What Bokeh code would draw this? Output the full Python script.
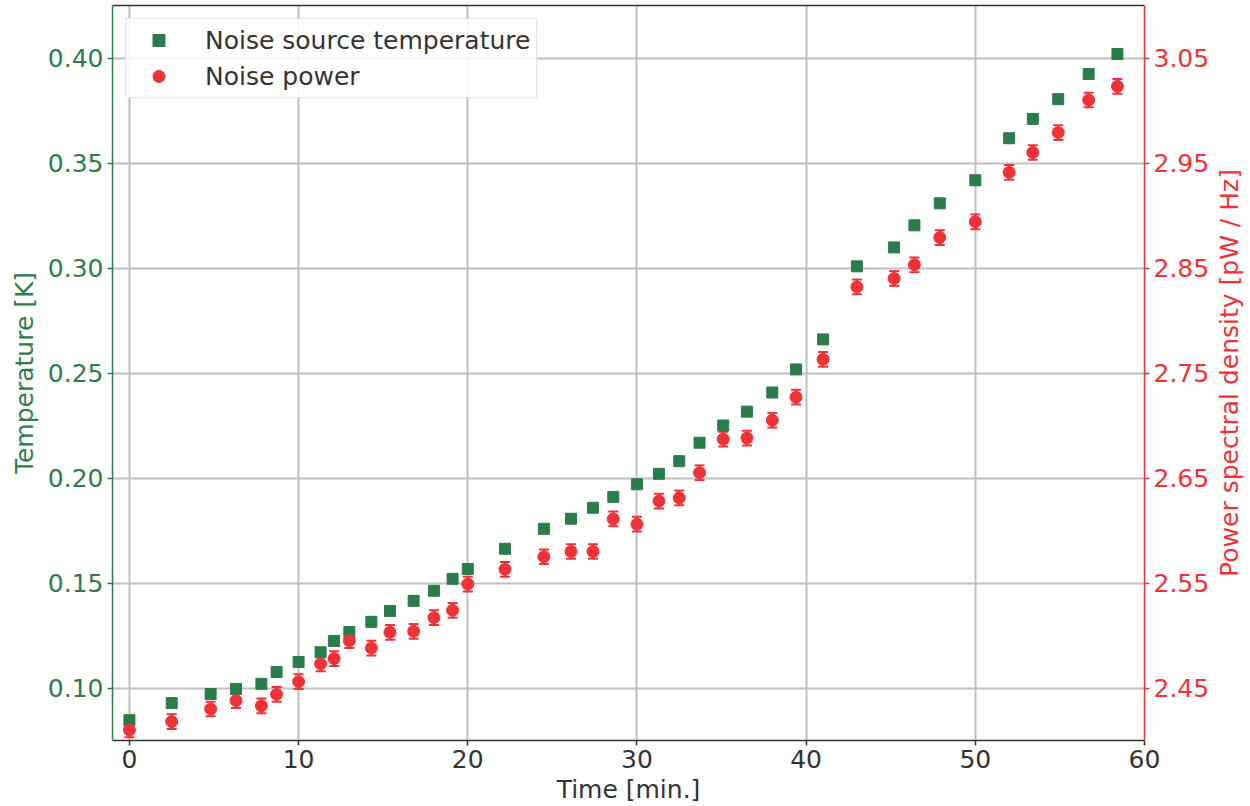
import math
from bokeh.plotting import figure
from bokeh.layouts import row
from bokeh.core.properties import value
from bokeh.models import (Range1d, LinearAxis, FixedTicker, NumeralTickFormatter,
                          ColumnDataSource, Whisker, TeeHead, Legend, LegendItem)
from bokeh.embed import file_html
from bokeh.resources import INLINE

# ---------------- data ----------------
time_min = [0.0, 2.5, 4.8, 6.3, 7.8, 8.7, 10.0, 11.3, 12.1, 13.0,
            14.3, 15.4, 16.8, 18.0, 19.1, 20.0, 22.2, 24.5, 26.1, 27.4,
            28.6, 30.0, 31.3, 32.5, 33.7, 35.1, 36.5, 38.0, 39.4, 41.0,
            43.0, 45.2, 46.4, 47.9, 50.0, 52.0, 53.4, 54.9, 56.7, 58.4]
temperature_K = [0.0847, 0.0928, 0.0971, 0.0995, 0.1020, 0.1076, 0.1124, 0.1170, 0.1224, 0.1267,
                 0.1315, 0.1367, 0.1415, 0.1463, 0.1520, 0.1567, 0.1663, 0.1758, 0.1806, 0.1858,
                 0.1910, 0.1970, 0.2020, 0.2080, 0.2168, 0.2250, 0.2316, 0.2407, 0.2517, 0.2660,
                 0.3008, 0.3098, 0.3203, 0.3308, 0.3418, 0.3618, 0.3710, 0.3804, 0.3924, 0.4019]
power_pW_Hz = [2.410, 2.418, 2.430, 2.438, 2.433, 2.444, 2.456, 2.473, 2.478, 2.495,
               2.488, 2.503, 2.504, 2.517, 2.524, 2.549, 2.563, 2.575, 2.580, 2.580,
               2.611, 2.606, 2.628, 2.631, 2.655, 2.687, 2.688, 2.705, 2.727, 2.763,
               2.832, 2.840, 2.853, 2.879, 2.894, 2.941, 2.960, 2.979, 3.010, 3.023]
power_err = [0.007, 0.007, 0.007, 0.007, 0.007, 0.007, 0.007, 0.007, 0.007, 0.007,
             0.007, 0.007, 0.007, 0.007, 0.007, 0.007, 0.007, 0.007, 0.007, 0.007,
             0.007, 0.007, 0.007, 0.007, 0.007, 0.007, 0.007, 0.007, 0.007, 0.007,
             0.007, 0.007, 0.007, 0.007, 0.007, 0.007, 0.007, 0.007, 0.007, 0.007]
x_ticks = [0, 10, 20, 30, 40, 50, 60]
temp_ticks = [0.10, 0.15, 0.20, 0.25, 0.30, 0.35, 0.40]
power_ticks = [2.45, 2.55, 2.65, 2.75, 2.85, 2.95, 3.05]
x_limits = (-1.0, 60.0)
temp_limits = (0.075, 0.425)
power_limits = (2.40, 3.10)
right_axis_title = "Power spectral density [pW / Hz]"

GREEN = "#2a7d4b"
RED = "#ee3338"
DARK = "#333333"
FONT = "DejaVu Sans"
FS = "25px"

p = figure(width=1212, height=806, output_backend="svg", toolbar_location=None,
           x_range=Range1d(*x_limits), y_range=Range1d(*temp_limits),
           min_border_left=112, min_border_right=66, min_border_top=5, min_border_bottom=66)
p.outline_line_color = None
p.background_fill_color = "white"
p.border_fill_color = "white"
p.extra_y_ranges = {"right": Range1d(*power_limits)}

# grids
p.xgrid.ticker = FixedTicker(ticks=x_ticks)
p.ygrid.ticker = FixedTicker(ticks=temp_ticks)
for g in (p.xgrid, p.ygrid):
    g.grid_line_color = "#c0c0c0"
    g.grid_line_width = 2

# bottom axis
xa = p.xaxis[0]
xa.ticker = FixedTicker(ticks=x_ticks)
xa.axis_label = "Time [min.]"
xa.axis_line_color = DARK
xa.axis_line_width = 1.5
xa.major_tick_line_color = DARK
xa.major_tick_line_width = 1.5
xa.major_tick_out = 5
xa.major_tick_in = 0
xa.minor_tick_line_color = None
xa.major_label_standoff = 4
xa.axis_label_standoff = 4
xa.major_label_text_font = FONT
xa.major_label_text_font_size = FS
xa.major_label_text_color = DARK
xa.axis_label_text_font = FONT
xa.axis_label_text_font_size = FS
xa.axis_label_text_font_style = "normal"
xa.axis_label_text_color = DARK

# left axis
ya = p.yaxis[0]
ya.ticker = FixedTicker(ticks=temp_ticks)
ya.formatter = NumeralTickFormatter(format="0.00")
ya.axis_label = "Temperature [K]"
ya.axis_line_color = GREEN
ya.axis_line_width = 1.5
ya.major_tick_line_color = GREEN
ya.major_tick_line_width = 1.5
ya.major_tick_out = 5
ya.major_tick_in = 0
ya.minor_tick_line_color = None
ya.major_label_standoff = 4
ya.axis_label_standoff = 6
ya.major_label_text_font = FONT
ya.major_label_text_font_size = FS
ya.major_label_text_color = GREEN
ya.axis_label_text_font = FONT
ya.axis_label_text_font_size = FS
ya.axis_label_text_font_style = "normal"
ya.axis_label_text_color = GREEN

# right axis (its title is drawn in a narrow side panel so that it reads upward)
ra = LinearAxis(y_range_name="right", ticker=FixedTicker(ticks=power_ticks),
                formatter=NumeralTickFormatter(format="0.00"))
ra.axis_line_color = RED
ra.axis_line_width = 1.5
ra.major_tick_line_color = RED
ra.major_tick_line_width = 1.5
ra.major_tick_out = 5
ra.major_tick_in = 0
ra.minor_tick_line_color = None
ra.major_label_standoff = 4
ra.major_label_text_font = FONT
ra.major_label_text_font_size = FS
ra.major_label_text_color = RED
p.add_layout(ra, "right")

# top spine
ta = LinearAxis(ticker=FixedTicker(ticks=[]), major_tick_line_color=None,
                minor_tick_line_color=None, major_label_text_font_size="0px",
                axis_line_color=DARK, axis_line_width=1.5)
p.add_layout(ta, "above")

# data
src_t = ColumnDataSource(dict(x=time_min, y=temperature_K))
lower = [v - e for v, e in zip(power_pW_Hz, power_err)]
upper = [v + e for v, e in zip(power_pW_Hz, power_err)]
src_p = ColumnDataSource(dict(x=time_min, y=power_pW_Hz, lower=lower, upper=upper))

r_t = p.scatter("x", "y", source=src_t, marker="square", size=11,
                fill_color=GREEN, line_color=GREEN)

wh = Whisker(base="x", lower="lower", upper="upper", source=src_p, y_range_name="right",
             line_color=RED, line_width=2,
             upper_head=TeeHead(size=10, line_color=RED, line_width=2),
             lower_head=TeeHead(size=10, line_color=RED, line_width=2))
p.add_layout(wh)

r_p = p.scatter("x", "y", source=src_p, y_range_name="right", marker="circle", size=12,
                fill_color=RED, line_color=RED)

legend = Legend(items=[LegendItem(label="Noise source temperature", renderers=[r_t]),
                       LegendItem(label="Noise power", renderers=[r_p])],
                location="top_left", margin=13, padding=6, spacing=6,
                glyph_width=53, glyph_height=30, label_height=30, label_standoff=20,
                label_text_font=FONT, label_text_font_size=FS, label_text_color=DARK,
                border_line_color="#cccccc", border_line_width=1.5,
                background_fill_color="white", background_fill_alpha=0.85)
p.add_layout(legend)

# side panel holding the right-axis title, aligned with the main frame
side = figure(width=34, height=806, output_backend="svg", toolbar_location=None,
              x_range=Range1d(0, 1), y_range=Range1d(*power_limits),
              min_border_left=0, min_border_right=0, min_border_top=5, min_border_bottom=66)
side.axis.visible = False
side.grid.visible = False
side.outline_line_color = None
side.background_fill_color = "white"
side.border_fill_color = "white"
side.text(x=[0.5], y=[sum(power_limits) / 2], text=[right_axis_title], angle=math.pi / 2,
          text_align="center", text_baseline="middle", text_font=value(FONT),
          text_font_size=FS, text_color=RED)

layout = row(p, side, spacing=0)
open("out.html", "w").write(file_html(layout, INLINE))
